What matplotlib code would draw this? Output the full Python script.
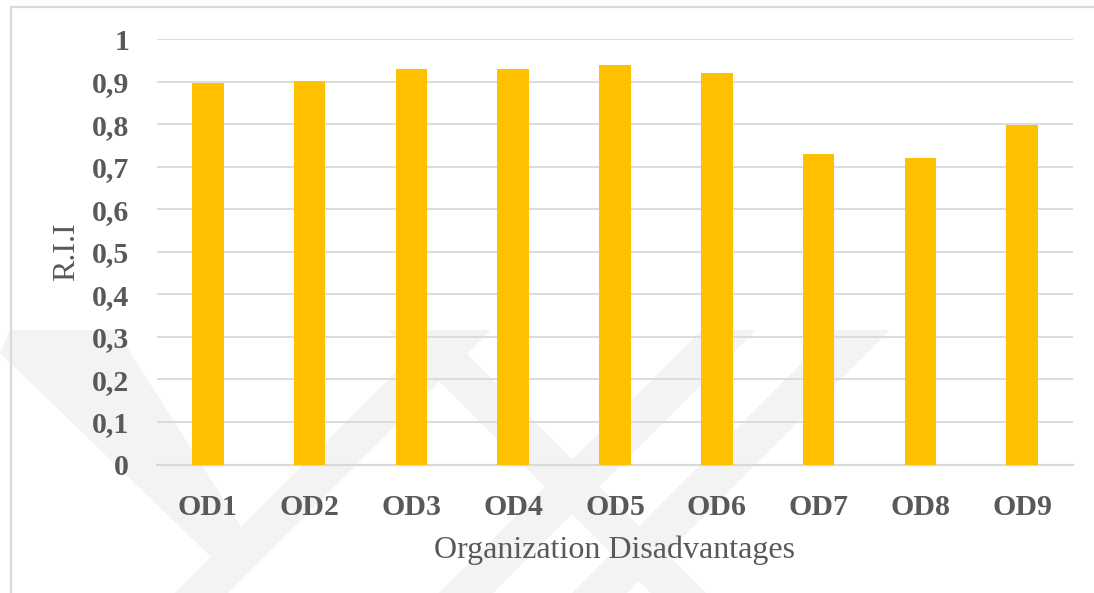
import matplotlib
matplotlib.use("Agg")
import matplotlib.pyplot as plt
from matplotlib.patches import Polygon, Rectangle

# ---- data ----
categories = ["OD1", "OD2", "OD3", "OD4", "OD5", "OD6", "OD7", "OD8", "OD9"]
rii_values = [0.897, 0.901, 0.930, 0.930, 0.939, 0.920, 0.730, 0.721, 0.798]
y_ticks = [0, 0.1, 0.2, 0.3, 0.4, 0.5, 0.6, 0.7, 0.8, 0.9, 1.0]
y_tick_labels = ["0", "0,1", "0,2", "0,3", "0,4", "0,5", "0,6", "0,7", "0,8", "0,9", "1"]
x_label = "Organization Disadvantages"
y_label = "R.I.I"

W, H = 1094, 593
fig = plt.figure(figsize=(W / 100, H / 100), dpi=100)
fig.patch.set_facecolor("white")

def px(pts):
    return [(x / W, 1 - y / H) for x, y in pts]

# faint background watermark (decoration)
wm_color = "#f3f3f3"
wm_shapes = [
    [(438, 330), (491, 330), (228, 593), (175, 593)],
    [(10, 330), (116, 330), (241, 527), (211, 557), (0, 353)],
    [(388, 330), (443, 330), (706, 593), (651, 593)],
    [(702, 330), (756, 330), (493, 593), (439, 593)],
    [(835, 330), (890, 330), (627, 593), (572, 593)],
]
for shp in wm_shapes:
    fig.add_artist(Polygon(px(shp), closed=True, facecolor=wm_color,
                           edgecolor="none", transform=fig.transFigure, zorder=0))

# outer frame
fig.add_artist(Rectangle((11 / W, -0.05), 1.2, 1 - 7 / H + 0.05, fill=False,
                         edgecolor="#d9d9d9", linewidth=1.6,
                         transform=fig.transFigure, zorder=1))

ax = fig.add_axes([157 / W, 1 - 464.5 / H, (1073 - 157) / W, (464.5 - 39) / H])
ax.set_facecolor("none")
ax.set_zorder(2)

x = list(range(len(categories)))
ax.bar(x, rii_values, width=0.31, color="#FFC000", zorder=3)

ax.set_xlim(-0.5, len(categories) - 0.5)
ax.set_ylim(0, 1.0)
ax.set_yticks(y_ticks)
ax.set_yticklabels(y_tick_labels)
ax.set_xticks(x)
ax.set_xticklabels(categories)

ax.yaxis.grid(True, color="#d9d9d9", linewidth=1.3, zorder=1)
ax.set_axisbelow(True)
for s in ["top", "right", "left"]:
    ax.spines[s].set_visible(False)
ax.spines["bottom"].set_color("#d9d9d9")
ax.spines["bottom"].set_linewidth(1.6)

ax.tick_params(axis="both", length=0, colors="#595959")
ax.tick_params(axis="y", pad=20)
ax.tick_params(axis="x", pad=21)
for lab in ax.get_yticklabels() + ax.get_xticklabels():
    lab.set_fontfamily("Liberation Serif")
    lab.set_fontweight("bold")
    lab.set_fontsize(21.5)
    lab.set_color("#595959")

ax.set_xlabel(x_label, family="Liberation Serif", size=23, color="#595959", labelpad=11)
ax.set_ylabel(y_label, family="Liberation Serif", size=23, color="#595959", labelpad=8)

fig.savefig("out.png", dpi=100, facecolor="white")
